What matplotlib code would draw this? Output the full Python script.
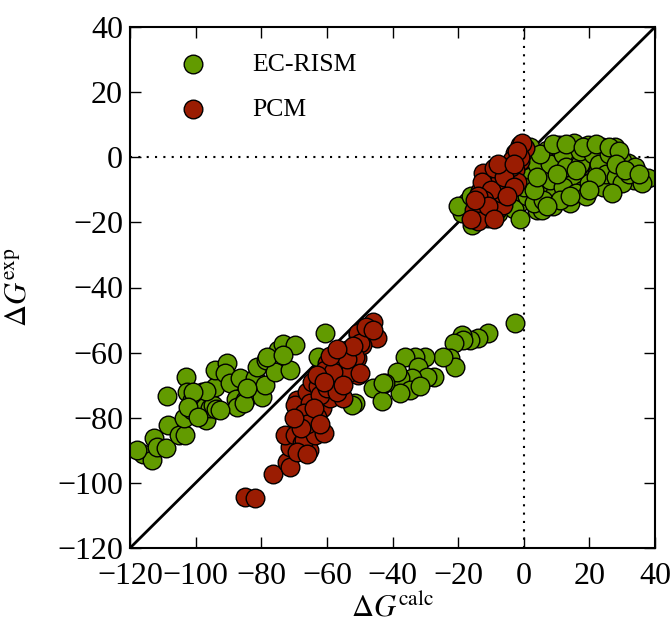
import matplotlib
matplotlib.use("Agg")
import matplotlib.pyplot as plt
import numpy as np

plt.rcParams['font.family'] = ['Liberation Serif', 'DejaVu Serif']
plt.rcParams['mathtext.fontset'] = 'stix'

# EC-RISM (calc, exp)
ec_x = [-115.9, -113.4, -112.7, -111.9, -109, -108.6, -108.3, -105, -103.2, -103.7,
        -102.9, -102.7, -101.2, -101.2, -99.7, -98.2, -97.1, -96.8, -95.6, -94.6,
        -94.1, -93.8, -94.1, -90.3, -91, -89.5, -87.7, -87.5, -86.5, -85,
        -83.4, -81.9, -81.4, -79.9, -78.8, -78.5, -75.8, -74.8, -73.3, -71.2,
        -69.7, -96.8, -100.7, -102.2, -99.2, -92.6, -85.4, -78.3, -73.3, -84.4,
        -60.5, -62.7, -118.0,
        -2.6, -10.8, -13.8, -16.4, -18.9, -18.4, -21.4, -22.5, -20.9, -24.5,
        -27.5, -30.1, -33.1, -36.2, -32.1, -29.6, -34.2, -37.7, -38.7, -34.7,
        -37.7, -42.3, -45.8, -43.3, -31.6, -51.4, -52.4, -42.8,
        -17.4, -18.9, -15.8, 4, -1.1, 0.9, 3.5, 2, 5,
        7, 10.6, 15.2, 19.7, 23.8, 27.9, 10.6, 15.2, 19.2, 24.8,
        29.4, 31.9, 33.5, 38, 7, 11.1, 15.2, 21.3, 26.3, 6,
        9.6, 13.6, 18.2, 22.3, 5.5,
        -12, -10, -8, -6, -4, -3, -5, -2, 0, 1,
        2, 3, 4, 6, 8, 8, 9, 12, 12, 13,
        14, 16, 17, 17, 20, 21, 23, 24, 25, 26,
        28, 30, 30, 32, 34, 36, 27, 19, 11, 7,
        -7, -9, -14, -20, -1, 2, 5, 9, 13, 18,
        22, 26, 29,
        -16, -12, -8, -4, 0, 3, 10, 16, 22, 28,
        31, 35, 14, 20, 4]
ec_y = [-91, -93, -86.3, -88.9, -89.2, -73.3, -82.2, -85.3, -85.3, -80.2,
        -67.6, -72, -74.6, -77.6, -76.1, -72, -76.6, -80.7, -77.1, -76.1,
        -70.5, -77.4, -65.4, -63.1, -66.4, -69.4, -74.1, -76.6, -67.9, -74.6,
        -71.5, -67.9, -64.3, -73.7, -70, -62.3, -65.9, -59.2, -57.2, -65.4,
        -57.7, -71.7, -72, -76.6, -79.7, -77.6, -75.6, -61.3, -60.7, -71,
        -54, -61.3, -90,
        -51, -53.9, -55.6, -56.1, -54.6, -56.1, -57.1, -61.7, -64.3, -61.2,
        -67.4, -61.2, -61.2, -61.2, -64.3, -67.4, -67.9, -67.9, -65.8, -71.5,
        -72.5, -69.4, -71, -75, -70.4, -75.6, -76.1, -69.4,
        -13.6, -17.2, -20.8, -16.2, -13.6, -9.5, -4.9, -0.8, -10,
        2.3, 3.8, 4.3, 3.8, 3.3, 3.3, -0.8, 0.2, 0.7, -1.8,
        -3.9, -1.8, -7, -6.4, -4.9, -4.4, -7.5, -5.9, -8.5, -9,
        -11, -12.1, -10, -4.9, -16.2,
        -15, -12, -17, -14, -11, -16, -8, -6, -3, -12,
        -6, -14, -2, -13, -7, -2, -15, -9, 1, -3,
        -14, -11, -2, 2, -8, 1, -2, -9, -5, 1,
        -6, -1, -8, -5, -3, -8, -11, -12, -13, -15,
        -4, -9, -18, -15, -19, 3, 1, 4, 4, 3,
        4, 3, 2,
        -12, -9, -14, -7, -9, -10, -5, -4, -6, -2,
        -4, -5, -12, -10, -6]

# PCM (calc, exp)
pcm_x = [-84.9, -81.9, -76.5, -72.2, -71.2, -71.2, -72.7, -69.7, -67.7, -65.6,
         -67.1, -63.6, -64.1, -61, -69.2, -69.7, -66.1, -64.6, -62.6, -61.6,
         -59, -58, -55, -56, -60, -60.5, -56.5, -53.4, -50.4, -50.9,
         -53.9, -50.4, -47.8, -45.8, -44.8, -49.4, -65.1, -67.1, -63.1, -69.2,
         -50.4, -49.9, -51.4, -53, -49.9,
         -62, -60, -58, -57, -55, -54, -52, -66, -68, -64,
         -63, -61, -59, -57, -48, -46, -70, -66, -62,
         -1.1, 0.4, -2.6, -3.7, -1.1, -6.2, -2.6, -4.7, -8.2, -7.2,
         -10.3, -12.3, -13.3, -11.3, -9.2, -13.8, -15.3, -10.8, -13.8, -8.2,
         -5.7, -2.1, -12.8, -9.2, -6.2,
         -4, -7, -10, -12, -6, -3, -1, -0.5, -2, -14,
         -8, -11, -5, -9, -15, -3, -16]
pcm_y = [-104.2, -104.7, -97.3, -93.5, -95, -88.9, -85.3, -85.3, -87.8, -89.9,
         -86.8, -85.3, -80.7, -84.8, -74.5, -76.1, -72, -68.9, -70.4, -77.1,
         -74, -69.9, -74, -67.4, -63.3, -65.3, -62.8, -65.8, -66.9, -61.7,
         -59.2, -54.6, -54.6, -50.5, -55.6, -57.6, -75.6, -78.6, -79.7, -90.4,
         -54.1, -57.1, -61.2, -65.8, -66.3,
         -73, -71, -66, -72, -70, -62, -58, -82, -83, -77,
         -67, -69, -61, -59, -52, -53, -80, -91, -82,
         3.8, 2.8, 1.2, -0.8, -1.3, -2.9, -3.9, -6, -6, -8.5,
         -7, -4.9, -10.5, -12.1, -13.1, -15.1, -16.2, -18.7, -19.7, -16.2,
         -10, -7.5, -7.5, -3.4, -14.6,
         -3, -11, -10, -13, -6, -9, 0, 4.5, 2, -12,
         -2, -15, -12, -19, -13, -2, -19]

fig = plt.figure(figsize=(6.72, 6.25), dpi=100)
ax = fig.add_axes([0.1935, 0.1232, 0.7812, 0.8336])

ax.plot([-120, 40], [-120, 40], color='k', lw=2, zorder=1)
ax.axhline(0, color='k', ls=(0, (1, 3)), lw=1.5, zorder=1)
ax.axvline(0, color='k', ls=(0, (1, 3)), lw=1.5, zorder=1)

ax.scatter(ec_x, ec_y, s=180, c='#629b00', edgecolors='k', linewidths=1.0,
           label='EC-RISM', zorder=2)
ax.scatter(pcm_x, pcm_y, s=180, c='#9a1c02', edgecolors='k', linewidths=1.0,
           label='PCM', zorder=3)

ax.set_xlim(-120, 40)
ax.set_ylim(-120, 40)
ax.set_xticks(np.arange(-120, 41, 20))
ax.set_yticks(np.arange(-120, 41, 20))
ax.tick_params(direction='in', top=True, right=True, length=8, width=1,
               labelsize=23)
ax.tick_params(axis='x', pad=10)
ax.tick_params(axis='y', pad=5)
for sp in ax.spines.values():
    sp.set_linewidth(1.5)

ax.set_xlabel(r'$\Delta G^{\rm calc}$', fontsize=22)
ax.set_ylabel(r'$\Delta G^{\rm exp}$', fontsize=22)
ax.xaxis.set_label_coords(0.5, -0.09)
ax.yaxis.set_label_coords(-0.185, 0.5)

ax.legend(loc='upper left', bbox_to_anchor=(0.095, 0.95), frameon=False,
          scatterpoints=1, fontsize=18.5, handletextpad=1.8, labelspacing=0.85,
          borderaxespad=0, borderpad=0, handlelength=1.0)

fig.savefig('out.png', dpi=100)
